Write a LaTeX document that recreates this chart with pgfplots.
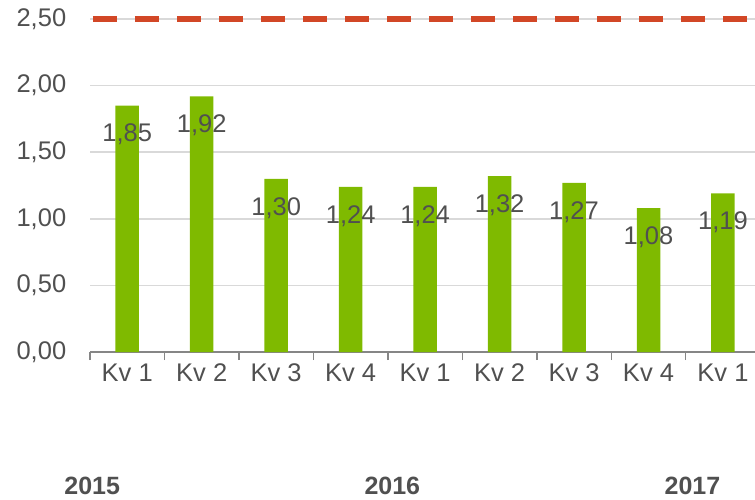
\documentclass[border=0pt]{standalone}
\usepackage{pgfplots}
\pgfplotsset{compat=1.18}
\usepackage{fontspec}
\setmainfont{Liberation Sans}
\definecolor{bargreen}{RGB}{127,186,0}
\definecolor{dashred}{RGB}{210,71,38}
\definecolor{gridgray}{RGB}{217,217,217}
\definecolor{axisgray}{RGB}{134,134,134}
\definecolor{textgray}{RGB}{80,80,80}
\begin{document}
\begin{tikzpicture}[x=1pt,y=1pt]
\useasboundingbox (0,0) rectangle (755,499);
\begin{axis}[
  at={(90pt,147pt)}, anchor=south west,
  scale only axis, width=665pt, height=333pt,
  xmin=-0.5, xmax=8.43, ymin=0, ymax=2.5,
  clip=false,
  axis x line*=bottom, axis y line*=left,
  x axis line style={-, draw=axisgray, line width=1.5pt},
  y axis line style={draw=none},
  ytick={0,0.5,...,2.5},
  ymajorgrids, grid style={gridgray, line width=1.5pt},
  ytick style={draw=none},
  xtick={0,...,8},
  xticklabels={Kv 1,Kv 2,Kv 3,Kv 4,Kv 1,Kv 2,Kv 3,Kv 4,Kv 1},
  major x tick style={draw=none},
  minor xtick={-0.5,0.5,...,7.5},
  minor x tick style={draw=axisgray, line width=1.5pt},
  minor tick length=8pt,
  tick align=outside,
  /pgf/number format/assume math mode=true,
  /pgf/number format/fixed,
  /pgf/number format/fixed zerofill,
  /pgf/number format/precision=2,
  /pgf/number format/use comma,
  ticklabel style={font=\fontsize{25.5}{30}\selectfont, text=textgray},
  yticklabel style={xshift=-16pt},
  xticklabel style={yshift=-4pt},
  ybar, bar width=23.5pt,
  nodes near coords,
  nodes near coords style={font=\fontsize{25.5}{30}\selectfont, text=textgray, anchor=center, yshift=-29pt},
]
\addplot[fill=bargreen, draw=none] coordinates {
  (0,1.85) (1,1.92) (2,1.30) (3,1.24) (4,1.24) (5,1.32) (6,1.27) (7,1.08) (8,1.19)};
\addplot[sharp plot, no marks, draw=dashred, line width=6pt, dash pattern=on 24pt off 18pt, nodes near coords={}, forget plot] coordinates {(-0.46,2.5) (8.43,2.5)};
\node[font=\fontsize{25}{30}\selectfont\bfseries, text=textgray, inner sep=0pt] at (axis cs:-0.47,0) [yshift=-134pt] {2015};
\node[font=\fontsize{25}{30}\selectfont\bfseries, text=textgray, inner sep=0pt] at (axis cs:3.56,0) [yshift=-134pt] {2016};
\node[font=\fontsize{25}{30}\selectfont\bfseries, text=textgray, inner sep=0pt] at (axis cs:7.59,0) [yshift=-134pt] {2017};
\end{axis}
\end{tikzpicture}
\end{document}
